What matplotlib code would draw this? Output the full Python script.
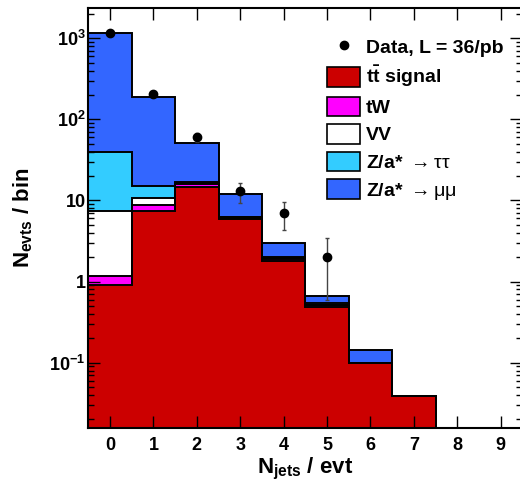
import numpy as np
import matplotlib.pyplot as plt
from matplotlib.patches import Patch
from matplotlib.lines import Line2D
from matplotlib.ticker import FixedLocator, FixedFormatter, LogLocator, NullFormatter

plt.rcParams['font.family'] = ['Liberation Sans', 'DejaVu Sans']
plt.rcParams['font.weight'] = 'bold'
plt.rcParams['mathtext.fontset'] = 'custom'
plt.rcParams['mathtext.rm'] = 'Liberation Sans:normal'
plt.rcParams['mathtext.bf'] = 'Liberation Sans:bold'
plt.rcParams['mathtext.it'] = 'Liberation Sans:italic'

# bins: number of jets per event
n_jets = np.arange(10)
edges = np.arange(11) - 0.5

# stacked MC contributions (bottom to top)
ttbar = [0.91, 7.5, 14.8, 5.9, 1.80, 0.49, 0.100, 0.039, 0, 0]
tW = [0.26, 1.3, 1.2, 0.2, 0.08, 0.02, 0.0, 0.0, 0, 0]
VV = [6.3, 1.8, 0.6, 0.1, 0.05, 0.01, 0.0, 0.0, 0, 0]
Ztautau = [31.9, 4.6, 0.5, 0.1, 0.07, 0.03, 0.0, 0.0, 0, 0]
Zmumu = [1133, 175, 33.6, 5.7, 0.97, 0.12, 0.044, 0.0, 0, 0]

# data
data = [1160, 204, 61, 13, 7, 2, 0, 0, 0, 0]

labels = [r'$\mathbf{t\bar{t}}$ signal', 'tW', 'VV',
          r'Z/a* $\mathrm{\rightarrow\tau\tau}$',
          r'Z/a* $\mathrm{\rightarrow\mu\mu}$']
colors = ['#cc0000', '#ff00ff', '#ffffff', '#33ccff', '#3366ff']

fig = plt.figure(figsize=(5.2, 4.83), dpi=100)
ax = fig.add_axes([0.1698, 0.1133, 0.8348, 0.8702])

layers = np.array([ttbar, tW, VV, Ztautau, Zmumu], dtype=float)
cum = np.cumsum(layers, axis=0)
for i in range(len(layers) - 1, -1, -1):
    vals = np.where(cum[i] > 0, cum[i], 1e-6)
    ax.stairs(vals, edges, fill=True, facecolor=colors[i], edgecolor='none',
              baseline=1e-6, zorder=1)
    ax.stairs(vals, edges, fill=False, edgecolor='black', lw=1.4,
              baseline=None, zorder=1.1)

data = np.array(data, dtype=float)
m = data > 0
ax.errorbar(n_jets[m], data[m], yerr=np.sqrt(data[m]), fmt='o', color='black',
            markersize=6, ecolor='#444444', elinewidth=1, capsize=1.5, zorder=3)

ax.set_yscale('log')
ax.set_xlim(-0.5, 9.5)
ax.set_ylim(0.01552, 2363)

ax.xaxis.set_major_locator(FixedLocator(n_jets))
ax.set_xticklabels([str(n) for n in n_jets])
ax.yaxis.set_major_locator(FixedLocator([0.1, 1, 10, 100, 1000]))
ax.yaxis.set_major_formatter(FixedFormatter([r'$\mathbf{10^{-1}}$', '1', '10',
                                             r'$\mathbf{10^{2}}$', r'$\mathbf{10^{3}}$']))
ax.yaxis.set_minor_locator(LogLocator(base=10, subs=np.arange(2, 10)))
ax.yaxis.set_minor_formatter(NullFormatter())

ax.tick_params(axis='both', which='both', direction='in', top=True, right=True,
               labelsize=13, color='black', width=1)
ax.tick_params(axis='both', which='major', length=8.5)
ax.tick_params(axis='y', which='minor', length=4.5)
ax.tick_params(axis='x', pad=6)
ax.tick_params(axis='y', pad=2)
ax.set_axisbelow(False)
for s in ax.spines.values():
    s.set_linewidth(1.5)
    s.set_zorder(4)

ax.set_xlabel(r'$\mathbf{N_{jets}}$ / evt', fontsize=16, fontweight='bold', labelpad=2)
ax.set_ylabel(r'$\mathbf{N_{evts}}$ / bin', fontsize=16, fontweight='bold', labelpad=10)

handles = [Line2D([], [], marker='o', color='black', ls='none', markersize=6)]
handles += [Patch(facecolor=c, edgecolor='black', lw=1.2) for c in colors]
ax.legend(handles, ['Data, L = 36/pb'] + labels, loc='upper left',
          bbox_to_anchor=(327 / 520, 1 - 36.6 / 483), bbox_transform=fig.transFigure,
          frameon=False, borderpad=0, borderaxespad=0, fontsize=14,
          handlelength=1.7, handleheight=1.17, labelspacing=0.37, handletextpad=0.3)

fig.savefig('out.png', dpi=100)
